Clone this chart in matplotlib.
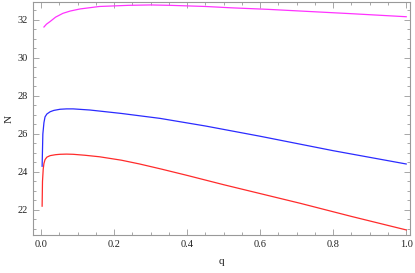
import numpy as np
import matplotlib
matplotlib.use("Agg")
import matplotlib.pyplot as plt
from matplotlib.ticker import MultipleLocator

plt.rcParams['font.family'] = ['Liberation Serif', 'DejaVu Serif']

# values
q_mag = [0.008, 0.015, 0.025, 0.04, 0.06, 0.08, 0.107, 0.16, 0.24, 0.30, 0.353, 0.45, 0.52, 0.62, 0.71, 0.85, 1.0]
N_mag = [31.63, 31.78, 31.92, 32.15, 32.35, 32.47, 32.58, 32.71, 32.77, 32.79, 32.77, 32.71, 32.64, 32.56, 32.47, 32.33, 32.17]

q_blue = [0.003, 0.005, 0.008, 0.011, 0.016, 0.025, 0.035, 0.052, 0.07, 0.088, 0.134, 0.22, 0.326, 0.45, 0.6, 0.8, 1.0]
N_blue = [24.3, 26.0, 26.6, 26.9, 27.05, 27.17, 27.24, 27.3, 27.32, 27.32, 27.26, 27.08, 26.82, 26.42, 25.88, 25.12, 24.42]

q_red = [0.003, 0.004, 0.006, 0.008, 0.011, 0.016, 0.025, 0.04, 0.052, 0.07, 0.088, 0.12, 0.16, 0.22, 0.27, 0.33, 0.4, 0.5, 0.71, 0.85, 1.0]
N_red = [22.2, 23.5, 24.15, 24.45, 24.65, 24.78, 24.86, 24.91, 24.93, 24.94, 24.93, 24.88, 24.8, 24.62, 24.42, 24.15, 23.82, 23.33, 22.35, 21.66, 20.95]

fig = plt.figure(figsize=(4.15, 2.73), dpi=100)
ax = fig.add_axes([0.0795, 0.139, 0.909, 0.854])

ax.plot(q_mag, N_mag, color='#ff33ff', lw=0.9)
ax.plot(q_blue, N_blue, color='#2b2bff', lw=0.9)
ax.plot(q_red, N_red, color='#ff2b2b', lw=0.9)

ax.set_xlim(-0.022, 1.011)
ax.set_ylim(20.68, 32.95)
ax.xaxis.set_major_locator(MultipleLocator(0.2))
ax.xaxis.set_minor_locator(MultipleLocator(0.05))
ax.yaxis.set_major_locator(MultipleLocator(2))
ax.yaxis.set_minor_locator(MultipleLocator(0.5))
ax.xaxis.set_major_formatter(matplotlib.ticker.FormatStrFormatter('%.1f'))

for s in ax.spines.values():
    s.set_color('#999999')
    s.set_linewidth(0.8)
ax.tick_params(which='both', direction='in', top=True, right=True, colors='#999999',
               labelcolor='#222222', labelsize=7.5, width=0.6)
ax.tick_params(which='major', length=4)
ax.tick_params(which='minor', length=2)

ax.set_xlabel('q', fontsize=8, color='#222222', labelpad=6)
ax.set_ylabel('N', fontsize=8, color='#222222', labelpad=3)

fig.savefig('out.png', dpi=100)
